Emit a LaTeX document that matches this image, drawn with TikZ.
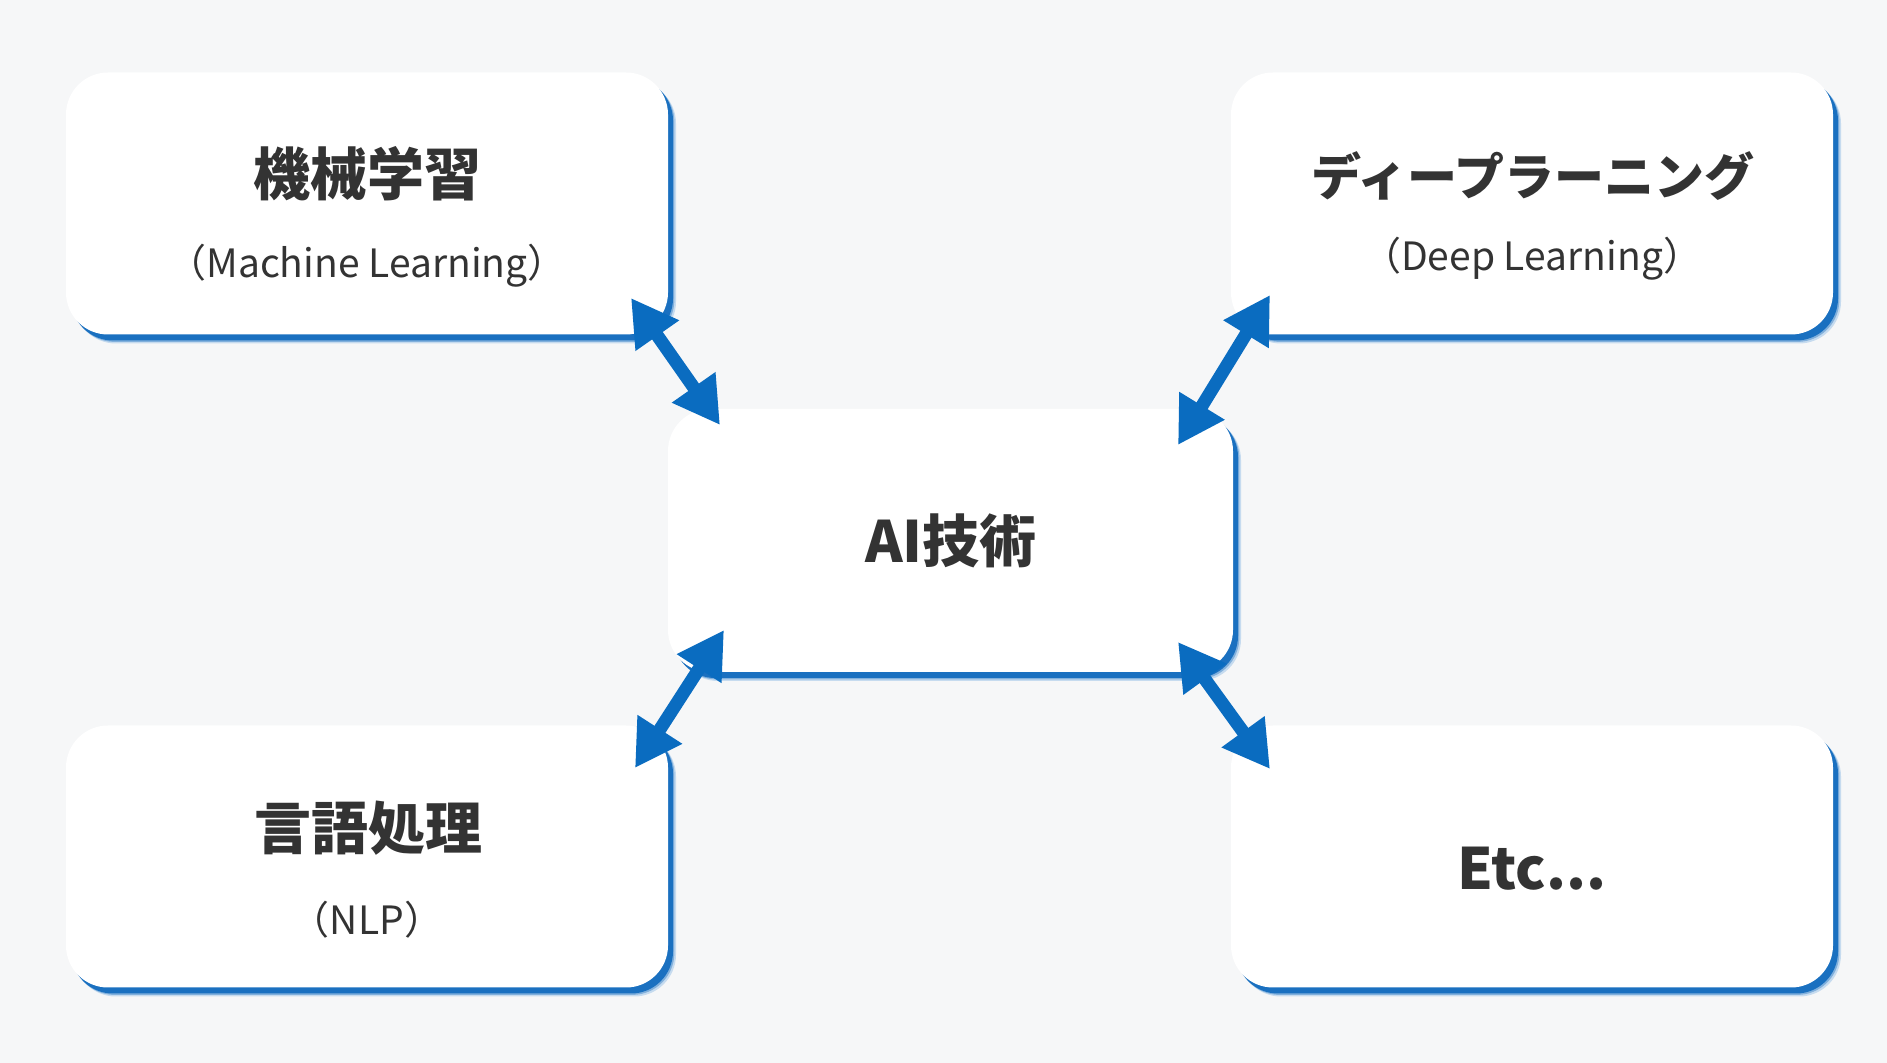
\documentclass[tikz,border=0pt]{standalone}
\usepackage{fontspec}
\setmainfont{Noto Sans CJK JP}
\usetikzlibrary{arrows.meta,shadows}
\definecolor{bg}{HTML}{F6F7F8}
\definecolor{arrowblue}{HTML}{0A6CC0}
\definecolor{shblue}{HTML}{1A70C0}
\definecolor{txt}{HTML}{333333}
\begin{document}
\begin{tikzpicture}[x=0.5pt,y=-0.5pt,
  card/.style={rounded corners=21pt, fill=white, draw=none, inner sep=0pt,
    drop shadow={shadow xshift=4pt,shadow yshift=-4.5pt,fill=shblue!25,opacity=1},
    drop shadow={shadow xshift=3.2pt,shadow yshift=-3.7pt,fill=shblue!55,opacity=1},
    drop shadow={shadow xshift=2.5pt,shadow yshift=-3pt,fill=shblue,opacity=1}},
  sidecard/.style={card, minimum width=301pt, minimum height=131pt},
  centercard/.style={card, minimum width=282.5pt, minimum height=131.5pt},
  head/.style={text=txt, font=\bfseries\fontsize{28.5}{32}\selectfont, inner sep=0pt},
  kanahead/.style={text=txt, font=\bfseries\fontsize{25}{30}\selectfont, inner sep=0pt},
  sub/.style={text=txt, font=\fontsize{19.5}{24}\selectfont, inner sep=0pt},
  dblarrow/.style={draw=arrowblue, line width=6.5pt,
    {Triangle[length=23pt,width=25pt]}-{Triangle[length=23pt,width=25pt]}}
]
\fill[bg] (0,0) rectangle (1887,1063);
\useasboundingbox (0,0) rectangle (1887,1063);

\node[sidecard] (ml) at (367,203.5) {};
\node[sidecard] (dl) at (1532,203.5) {};
\node[centercard] (ai) at (950.5,540.5) {};
\node[sidecard] (nlp) at (367,856.5) {};
\node[sidecard] (etc) at (1532,856.5) {};

\node[head] (mlt) at (367,174) {機械学習};
\node[sub] (mls) at (367,266) {（Machine Learning）};
\node[kanahead] (dlt) at (1533,176) {ディープラーニング};
\node[sub] (dls) at (1532,259) {（Deep Learning）};
\node[head] (ait) at (951,541) {AI技術};
\node[head] (nlpt) at (368,828) {言語処理};
\node[sub] (nlps) at (367,920) {（NLP）};
\node[head] (etct) at (1532,869) {Etc...};

\coordinate (a1s) at (631,298);
\coordinate (a1e) at (720,425);
\coordinate (a2s) at (1270,295);
\coordinate (a2e) at (1178,445);
\coordinate (a3s) at (724,630);
\coordinate (a3e) at (635,768);
\coordinate (a4s) at (1178,642);
\coordinate (a4e) at (1270,769);

\draw[dblarrow] (a1s) -- (a1e);
\draw[dblarrow] (a2s) -- (a2e);
\draw[dblarrow] (a3s) -- (a3e);
\draw[dblarrow] (a4s) -- (a4e);
\end{tikzpicture}
\end{document}
